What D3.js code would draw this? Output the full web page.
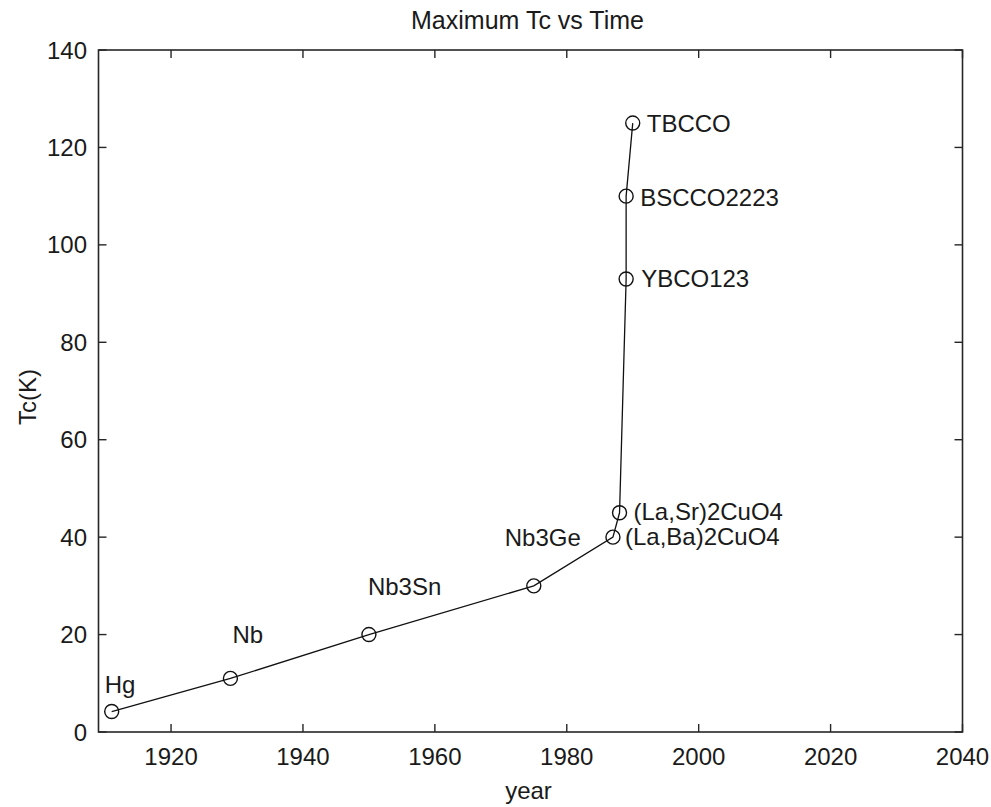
<!DOCTYPE html>
<html>
<head>
<meta charset="utf-8">
<script src="https://cdn.jsdelivr.net/npm/d3@7/dist/d3.min.js"></script>
<style>
  html, body { margin: 0; padding: 0; background: #fff; }
  svg text { font-family: "Liberation Sans", Arial, sans-serif; fill: #1a1a1a; }
</style>
</head>
<body>
<svg id="chart" width="991" height="807"></svg>
<script>
// Record superconducting transition temperature by year of discovery
const materials = ["Hg", "Nb", "Nb3Sn", "Nb3Ge", "(La,Ba)2CuO4", "(La,Sr)2CuO4", "YBCO123", "BSCCO2223", "TBCCO"];
const years     = [1911, 1929, 1950, 1975, 1987, 1988, 1989, 1989, 1990];
const tcKelvin  = [4.2, 11, 20, 30, 40, 45, 93, 110, 125];

const xTicks = [1920, 1940, 1960, 1980, 2000, 2020, 2040];
const yTicks = [0, 20, 40, 60, 80, 100, 120, 140];

const titleText = "Maximum Tc vs Time";
const xLabel = "year";
const yLabel = "Tc(K)";

const points = materials.map((m, i) => ({ name: m, year: years[i], tc: tcKelvin[i] }));

// Label placement relative to each marker (pixels)
const labelPlacement = {
  "Hg":           { dx: -7,  dy: -19 },
  "Nb":           { dx: 2,   dy: -35 },
  "Nb3Sn":        { dx: -1,  dy: -40 },
  "Nb3Ge":        { dx: 47,  dy: -40, anchor: "end" },
  "(La,Ba)2CuO4": { dx: 12,  dy: 8 },
  "(La,Sr)2CuO4": { dx: 14,  dy: 7 },
  "YBCO123":      { dx: 15,  dy: 8.5 },
  "BSCCO2223":    { dx: 14,  dy: 9.5 },
  "TBCCO":        { dx: 14,  dy: 9 }
};

const svg = d3.select("#chart");
const plotL = 98.5, plotR = 962.5, plotT = 50, plotB = 732;

const x = d3.scaleLinear().domain([1909, 2040]).range([plotL, plotR]);
const y = d3.scaleLinear().domain([0, 140]).range([plotB, plotT]);

const axisColor = "#262626";
const tickLen = 8;
const fontSize = 24;

// Frame
svg.append("rect")
  .attr("x", plotL).attr("y", plotT)
  .attr("width", plotR - plotL).attr("height", plotB - plotT)
  .attr("fill", "none").attr("stroke", axisColor).attr("stroke-width", 1.6);

// Inward ticks on all four sides
const g = svg.append("g").attr("stroke", axisColor).attr("stroke-width", 1.4);
xTicks.forEach(t => {
  const px = x(t);
  g.append("line").attr("x1", px).attr("x2", px).attr("y1", plotB).attr("y2", plotB - tickLen);
  g.append("line").attr("x1", px).attr("x2", px).attr("y1", plotT).attr("y2", plotT + tickLen);
});
yTicks.forEach(t => {
  const py = y(t);
  g.append("line").attr("x1", plotL).attr("x2", plotL + tickLen).attr("y1", py).attr("y2", py);
  g.append("line").attr("x1", plotR).attr("x2", plotR - tickLen).attr("y1", py).attr("y2", py);
});

// Tick labels
svg.append("g").selectAll("text").data(xTicks).join("text")
  .attr("x", d => x(d)).attr("y", 765)
  .attr("text-anchor", "middle").attr("font-size", fontSize)
  .text(d => d);
svg.append("g").selectAll("text").data(yTicks).join("text")
  .attr("x", 87).attr("y", d => y(d) + 8.5)
  .attr("text-anchor", "end").attr("font-size", fontSize)
  .text(d => d);

// Title and axis labels
svg.append("text").attr("x", (plotL + plotR) / 2 - 3).attr("y", 29)
  .attr("text-anchor", "middle").attr("font-size", 25).text(titleText);
svg.append("text").attr("x", (plotL + plotR) / 2 - 2).attr("y", 799)
  .attr("text-anchor", "middle").attr("font-size", fontSize).text(xLabel);
svg.append("text")
  .attr("transform", `translate(36, 397) rotate(-90)`)
  .attr("text-anchor", "middle").attr("font-size", fontSize).text(yLabel);

// Data line
const line = d3.line().x(d => x(d.year)).y(d => y(d.tc));
svg.append("path").datum(points)
  .attr("d", line).attr("fill", "none")
  .attr("stroke", "#111").attr("stroke-width", 1.3);

// Circle markers
svg.append("g").selectAll("circle").data(points).join("circle")
  .attr("cx", d => x(d.year)).attr("cy", d => y(d.tc)).attr("r", 7)
  .attr("fill", "none").attr("stroke", "#111").attr("stroke-width", 1.4);

// Material labels
svg.append("g").selectAll("text").data(points).join("text")
  .attr("x", d => x(d.year) + labelPlacement[d.name].dx)
  .attr("y", d => y(d.tc) + labelPlacement[d.name].dy)
  .attr("text-anchor", d => labelPlacement[d.name].anchor || "start")
  .attr("font-size", fontSize)
  .text(d => d.name);
</script>
</body>
</html>
